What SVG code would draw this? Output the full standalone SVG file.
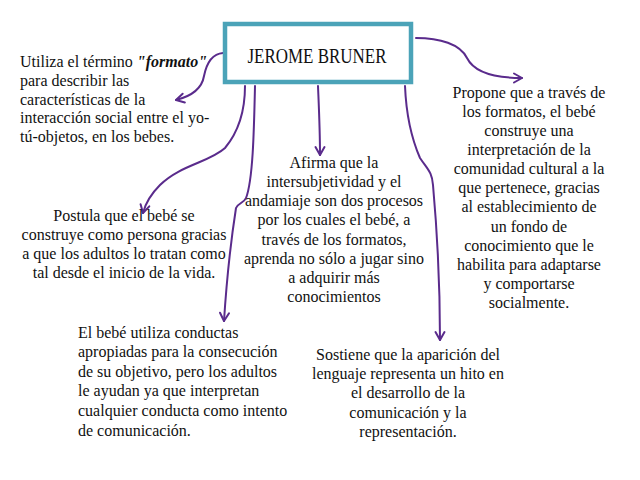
<svg xmlns="http://www.w3.org/2000/svg" width="640" height="480" viewBox="0 0 640 480">
<style>
.t{font-family:'Liberation Serif','DejaVu Serif',serif;font-size:16px;fill:#111}
.c{text-anchor:middle}
.h{font-family:'Liberation Serif','DejaVu Serif',serif;font-size:22px;fill:#111;text-anchor:middle}
.con{fill:none;stroke:#5a2b8c;stroke-width:2;stroke-linecap:round}
</style>
<defs>
<marker id="arr" viewBox="0 0 12 12" refX="10" refY="6" markerWidth="12" markerHeight="12" markerUnits="userSpaceOnUse" orient="auto">
<path d="M2,1.5 L10,6 L2,10.5" fill="none" stroke="#5a2b8c" stroke-width="2" stroke-linecap="round" stroke-linejoin="round"/>
</marker>
</defs>
<rect width="640" height="480" fill="#ffffff"/>
<g id="connectors">
<path class="con" marker-end="url(#arr)" d="M223,53 C210,54 206,66 204,76 C202,88 192,96 176,100"/>
<path class="con" marker-end="url(#arr)" d="M245,86 C245,110 240,130 225,148 C210,162 180,165 160,185 C150,195 145,205 143,213"/>
<path class="con" marker-end="url(#arr)" d="M255,86 C254,130 253,180 246,198 C244,203 238,203 236,208 C231,240 226,290 224,321"/>
<path class="con" marker-end="url(#arr)" d="M318,86 C319,110 320,130 320,155"/>
<path class="con" marker-end="url(#arr)" d="M405,86 C406,110 410,135 420,158 C428,170 432,172 433,185 C437,230 440,290 440,340"/>
<path class="con" marker-end="url(#arr)" d="M416,38 C440,38 460,44 467,58 C474,72 495,78 522,78"/>
</g>
<g id="title">
<rect x="225" y="24" width="186" height="58" fill="#ffffff" stroke="#4ba3b8" stroke-width="4.5"/>
<text class="h" x="317" y="63" textLength="139" lengthAdjust="spacingAndGlyphs">JEROME BRUNER</text>
</g>
<g id="n1">
<text class="t" x="20" y="67">Utiliza el término <tspan font-weight="bold" font-style="italic">"formato"</tspan></text>
<text class="t" x="20" y="86">para describir las</text>
<text class="t" x="20" y="104.5">características de la</text>
<text class="t" x="20" y="123">interacción social entre el yo-</text>
<text class="t" x="20" y="142">tú-objetos, en los bebes.</text>
</g>
<g id="n2" class="t c">
<text x="124" y="221">Postula que el bebé se</text>
<text x="124" y="240">construye como persona gracias</text>
<text x="124" y="259">a que los adultos lo tratan como</text>
<text x="124" y="278">tal desde el inicio de la vida.</text>
</g>
<g id="n3" class="t c">
<text x="334" y="168">Afirma que la</text>
<text x="334" y="187">intersubjetividad y el</text>
<text x="334" y="206">andamiaje son dos procesos</text>
<text x="334" y="225">por los cuales el bebé, a</text>
<text x="334" y="245">través de los formatos,</text>
<text x="334" y="264">aprenda no sólo a jugar sino</text>
<text x="334" y="283">a adquirir más</text>
<text x="334" y="302">conocimientos</text>
</g>
<g id="n4" class="t c">
<text x="529" y="98">Propone que a través de</text>
<text x="529" y="117">los formatos, el bebé</text>
<text x="529" y="136">construye una</text>
<text x="529" y="155">interpretación de la</text>
<text x="529" y="174">comunidad cultural a la</text>
<text x="529" y="193">que pertenece, gracias</text>
<text x="529" y="212">al establecimiento de</text>
<text x="529" y="232">un fondo de</text>
<text x="529" y="251">conocimiento que le</text>
<text x="529" y="270">habilita para adaptarse</text>
<text x="529" y="289">y comportarse</text>
<text x="529" y="308">socialmente.</text>
</g>
<g id="n5" class="t">
<text x="78" y="338">El bebé utiliza conductas</text>
<text x="78" y="357">apropiadas para la consecución</text>
<text x="78" y="377">de su objetivo, pero los adultos</text>
<text x="78" y="396">le ayudan ya que interpretan</text>
<text x="78" y="416">cualquier conducta como intento</text>
<text x="78" y="436">de comunicación.</text>
</g>
<g id="n6" class="t c">
<text x="408" y="360">Sostiene que la aparición del</text>
<text x="408" y="379">lenguaje representa un hito en</text>
<text x="408" y="398">el desarrollo de la</text>
<text x="408" y="418">comunicación y la</text>
<text x="408" y="437">representación.</text>
</g>
</svg>
